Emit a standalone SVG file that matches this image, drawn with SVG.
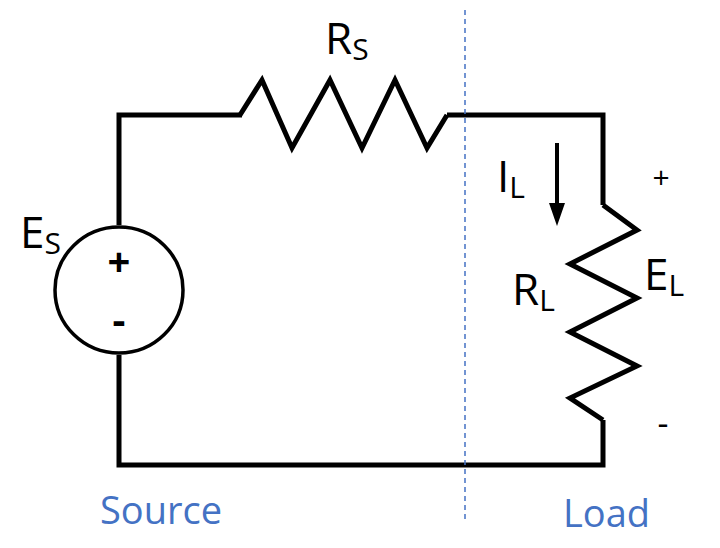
<svg xmlns="http://www.w3.org/2000/svg" width="720" height="548" viewBox="0 0 720 548">
<style>
.w{fill:none;stroke:#000;stroke-width:5;stroke-linejoin:miter}
.t{font-family:"Open Sans","Liberation Sans",sans-serif;fill:#000}
.b{font-family:"Open Sans","Liberation Sans",sans-serif;fill:#4472C4;font-size:38px}
</style>
<rect width="720" height="548" fill="#fff"/>
<g id="wires">
<polyline class="w" points="119,225 119,115 242,115"/>
<polyline class="w" points="119,355 119,465 603,465 603,420"/>
<polyline class="w" points="447,115 603,115 603,205"/>
</g>
<g id="Rs"><polyline class="w" points="240,115 262,80 292,148 330,80 362,148 395,80 427,148 447,115"/></g>
<g id="Es"><ellipse cx="119" cy="290" rx="64" ry="63" fill="none" stroke="#000" stroke-width="3.5"/>
<text class="t" x="119" y="276" font-size="40" text-anchor="middle" font-weight="bold">+</text>
<text class="t" x="119" y="334" font-size="40" text-anchor="middle" font-weight="bold">-</text></g>
<g id="RL"><polyline class="w" points="603,205 637,230 570,264 637,298 570,332 637,366 570,398 603,420"/></g>
<line x1="465" y1="10" x2="465" y2="522" stroke="#4472C4" stroke-width="1.5" stroke-dasharray="5,4"/>
<g id="arrow"><line x1="557" y1="143" x2="557" y2="205" stroke="#000" stroke-width="4"/><polygon points="549,203 565,203 557,226"/></g>
<text class="t" x="325" y="54" font-size="44">R<tspan font-size="30" dy="6">S</tspan></text>
<text class="t" x="20" y="248" font-size="44">E<tspan font-size="30" dy="6">S</tspan></text>
<text class="t" x="497" y="192" font-size="44">I<tspan font-size="30" dy="6">L</tspan></text>
<text class="t" x="512" y="305" font-size="44">R<tspan font-size="30" dy="6">L</tspan></text>
<text class="t" x="644" y="290" font-size="44">E<tspan font-size="30" dy="6">L</tspan></text>
<text class="t" x="661" y="188" font-size="30" text-anchor="middle">+</text>
<text class="t" x="663" y="435" font-size="34" text-anchor="middle">-</text>
<text class="b" x="100" y="524">Source</text>
<text class="b" x="563" y="527">Load</text>
</svg>
